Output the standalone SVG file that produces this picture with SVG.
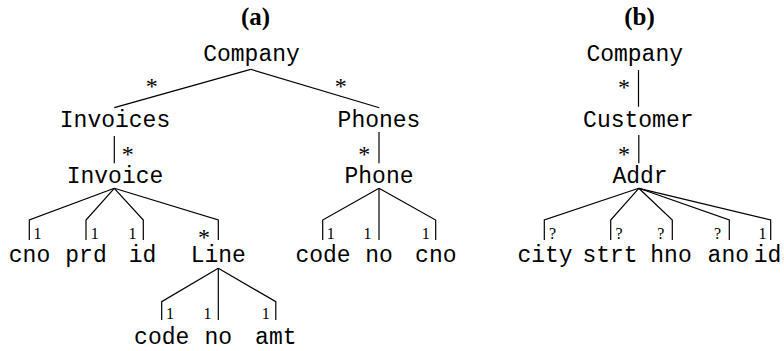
<svg xmlns="http://www.w3.org/2000/svg" width="784" height="351" viewBox="0 0 784 351">
<style>
.n{font-family:"Liberation Mono","DejaVu Sans Mono",monospace;font-size:23px;text-anchor:middle;fill:#000}
.m{font-family:"Liberation Serif","DejaVu Serif",serif;font-size:16px;text-anchor:middle;fill:#000}
.s{font-family:"Liberation Serif","DejaVu Serif",serif;font-size:24px;text-anchor:middle;fill:#000}
.t{font-family:"Liberation Serif","DejaVu Serif",serif;font-size:25px;font-weight:bold;text-anchor:middle;fill:#000}
.c{fill:none;stroke:#000;stroke-width:1.2}
</style>
<rect width="784" height="351" fill="#fff"/>
<text class="t" x="255.5" y="25">(a)</text>
<text class="t" x="639.5" y="25">(b)</text>
<g id="connectors" class="c">
<path d="M250.7,69.3 L114.3,107.7"/>
<path d="M250.7,69.3 L379.3,107.7"/>
<path d="M114.3,136 V163.3"/>
<path d="M379,132 V163.3"/>
<path d="M114.3,188.3 L29.3,220 V240"/>
<path d="M114.3,188.3 L86,220 V240"/>
<path d="M114.3,188.3 L143.3,220 V240"/>
<path d="M114.3,188.3 L218.3,220 V240"/>
<path d="M379,188.3 L322.7,220 V240"/>
<path d="M379,188.3 V240"/>
<path d="M379,188.3 L435.7,220 V240"/>
<path d="M218.3,268.3 L161.7,301.7 V320"/>
<path d="M218.3,268.3 V320"/>
<path d="M218.3,268.3 L275.8,301.7 V320"/>
<path d="M638.5,70 V106.7"/>
<path d="M638.8,135 V163.3"/>
<path d="M638.8,188.3 L544.3,220 V240"/>
<path d="M638.8,188.3 L610.7,220 V240"/>
<path d="M638.8,188.3 L672.3,220 V240"/>
<path d="M638.8,188.3 L729.3,220 V240"/>
<path d="M638.8,188.3 L770.7,220 V240"/>
</g>
<g id="labels">
<text class="s" x="151.7" y="94">*</text>
<text class="s" x="340.7" y="94">*</text>
<text class="s" x="127.7" y="161.5">*</text>
<text class="s" x="364.3" y="161.5">*</text>
<text class="m" x="37.5" y="239">1</text>
<text class="m" x="94.7" y="239">1</text>
<text class="m" x="132.5" y="239">1</text>
<text class="s" x="204" y="244.5">*</text>
<text class="m" x="330.8" y="239">1</text>
<text class="m" x="367.5" y="239">1</text>
<text class="m" x="425.8" y="239">1</text>
<text class="m" x="170" y="318.5">1</text>
<text class="m" x="207.5" y="318.5">1</text>
<text class="m" x="265.8" y="318.5">1</text>
<text class="s" x="624" y="95">*</text>
<text class="s" x="624" y="161.5">*</text>
<text class="m" x="552.5" y="239">?</text>
<text class="m" x="619" y="239">?</text>
<text class="m" x="660.8" y="239">?</text>
<text class="m" x="717.5" y="239">?</text>
<text class="m" x="762.5" y="239">1</text>
</g>
<g id="a-company"><text class="n" x="251.5" y="60.5">Company</text></g>
<g id="a-invoices"><text class="n" x="115" y="127">Invoices</text></g>
<g id="a-phones"><text class="n" x="379" y="127">Phones</text></g>
<g id="a-invoice"><text class="n" x="115" y="183">Invoice</text></g>
<g id="a-phone"><text class="n" x="379" y="183">Phone</text></g>
<g id="a-cno"><text class="n" x="29.5" y="262">cno</text></g>
<g id="a-prd"><text class="n" x="86" y="262">prd</text></g>
<g id="a-id"><text class="n" x="142.5" y="262">id</text></g>
<g id="a-line"><text class="n" x="218.3" y="262">Line</text></g>
<g id="a-phone-code"><text class="n" x="323" y="262">code</text></g>
<g id="a-phone-no"><text class="n" x="379" y="262">no</text></g>
<g id="a-phone-cno"><text class="n" x="435.8" y="262">cno</text></g>
<g id="a-line-code"><text class="n" x="161.7" y="343.5">code</text></g>
<g id="a-line-no"><text class="n" x="218.3" y="343.5">no</text></g>
<g id="a-line-amt"><text class="n" x="275.8" y="343.5">amt</text></g>
<g id="b-company"><text class="n" x="634.7" y="60.5">Company</text></g>
<g id="b-customer"><text class="n" x="638.3" y="127">Customer</text></g>
<g id="b-addr"><text class="n" x="640" y="183">Addr</text></g>
<g id="b-city"><text class="n" x="545" y="262">city</text></g>
<g id="b-strt"><text class="n" x="610" y="262">strt</text></g>
<g id="b-hno"><text class="n" x="671" y="262">hno</text></g>
<g id="b-ano"><text class="n" x="728.3" y="262">ano</text></g>
<g id="b-id"><text class="n" x="767.5" y="262">id</text></g>
</svg>
